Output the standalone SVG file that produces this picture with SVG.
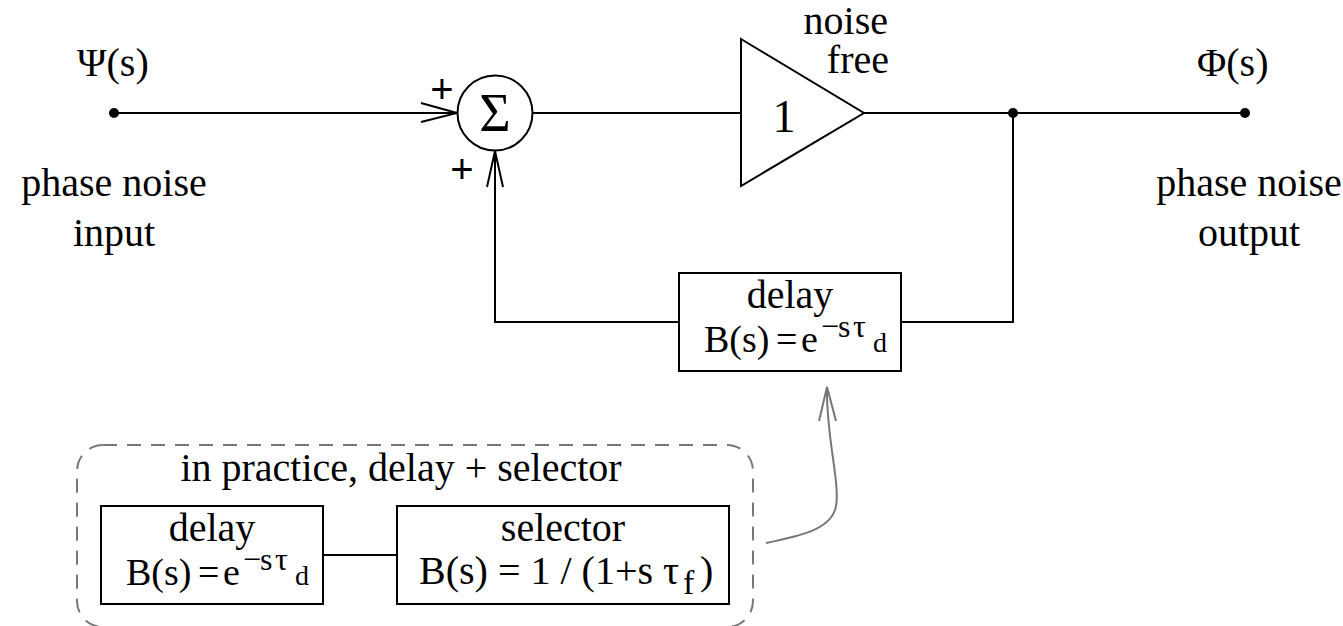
<svg xmlns="http://www.w3.org/2000/svg" width="1343" height="626" viewBox="0 0 1343 626">
<style>
.t{font-family:'Liberation Serif','Times New Roman',serif;font-size:40px;fill:#000}
.m{font-family:'Liberation Serif','Times New Roman',serif;font-size:38px;fill:#000}
.sup{font-size:32px}
.sub{font-size:28px}
.pl{font-family:'Liberation Sans',Arial,sans-serif;font-size:40px;fill:#000;text-anchor:middle}
.c{text-anchor:middle}
.ln{fill:none;stroke:#000;stroke-width:2}
.bx{fill:#fff;stroke:#000;stroke-width:2}
.dot{fill:#000}
.gray{fill:none;stroke:#777;stroke-width:2}
</style>
<rect width="1343" height="626" fill="#fff"/>
<g id="connectors">
  <line class="ln" x1="114" y1="113" x2="457" y2="113"/>
  <polyline class="ln" points="421,103 457,113 421,122"/>
  <line class="ln" x1="533" y1="113" x2="741" y2="113"/>
  <line class="ln" x1="864" y1="113" x2="1245" y2="113"/>
  <polyline class="ln" points="1013,113 1013,322 901,322"/>
  <polyline class="ln" points="679,322 495,322 495,151"/>
  <polyline class="ln" points="487,187 495,151 503,187"/>
  <line class="ln" x1="323" y1="555" x2="397" y2="555"/>
  <path class="gray" d="M766,543 C800,536 828,530 835,510 C842,488 826,440 827,388"/>
  <polyline class="gray" points="819,421 827,387 836,421"/>
</g>
<g id="input">
  <circle class="dot" cx="114" cy="113" r="5"/>
  <text class="t" x="77" y="76">Ψ(s)</text>
  <text class="t c" x="114" y="196">phase noise</text>
  <text class="t c" x="114" y="246">input</text>
</g>
<g id="sum">
  <circle cx="495" cy="113" r="37.5" fill="#fff" stroke="#000" stroke-width="2"/>
  <text class="t c" x="495" y="131" style="font-size:54px">Σ</text>
  <text class="pl" x="442" y="103">+</text>
  <text class="pl" x="462" y="183">+</text>
</g>
<g id="amplifier">
  <polygon class="bx" points="741,39 864,113 741,186"/>
  <text class="t c" x="784" y="132" style="font-size:46px">1</text>
  <text class="t" x="888" y="34" text-anchor="end">noise</text>
  <text class="t" x="889" y="73" text-anchor="end">free</text>
</g>
<g id="junction">
  <circle class="dot" cx="1013" cy="113" r="5"/>
</g>
<g id="output">
  <circle class="dot" cx="1245" cy="113" r="5"/>
  <text class="t" x="1197" y="76">Φ(s)</text>
  <text class="t c" x="1249" y="196">phase noise</text>
  <text class="t c" x="1249" y="246">output</text>
</g>
<g id="delay">
  <rect class="bx" x="679" y="273" width="222" height="98"/>
  <text class="t c" x="790" y="308">delay</text>
  <text class="m" y="352"><tspan x="704">B(s)</tspan><tspan x="776">=</tspan><tspan x="801">e</tspan><tspan class="sup" x="821" y="337">−</tspan><tspan class="sup" x="838" y="337">s</tspan><tspan class="sup" x="853" y="337">τ</tspan><tspan class="sub" x="873" y="352">d</tspan></text>
</g>
<g id="practice">
  <rect class="gray" x="77" y="445" width="676" height="182" rx="26" stroke-dasharray="14,10"/>
  <text class="t c" x="401" y="481">in practice, delay + selector</text>
</g>
<g id="delay2">
  <rect class="bx" x="101" y="506" width="222" height="98"/>
  <text class="t c" x="212" y="541">delay</text>
  <text class="m" y="585"><tspan x="126">B(s)</tspan><tspan x="198">=</tspan><tspan x="223">e</tspan><tspan class="sup" x="243" y="570">−</tspan><tspan class="sup" x="260" y="570">s</tspan><tspan class="sup" x="275" y="570">τ</tspan><tspan class="sub" x="295" y="585">d</tspan></text>
</g>
<g id="selector">
  <rect class="bx" x="397" y="506" width="332" height="98"/>
  <text class="t c" x="563" y="541">selector</text>
  <text class="t" x="419" y="584">B(s) = 1 / (1+s τ<tspan x="683" y="594" style="font-size:34px">f</tspan><tspan x="700" y="584">)</tspan></text>
</g>
</svg>
